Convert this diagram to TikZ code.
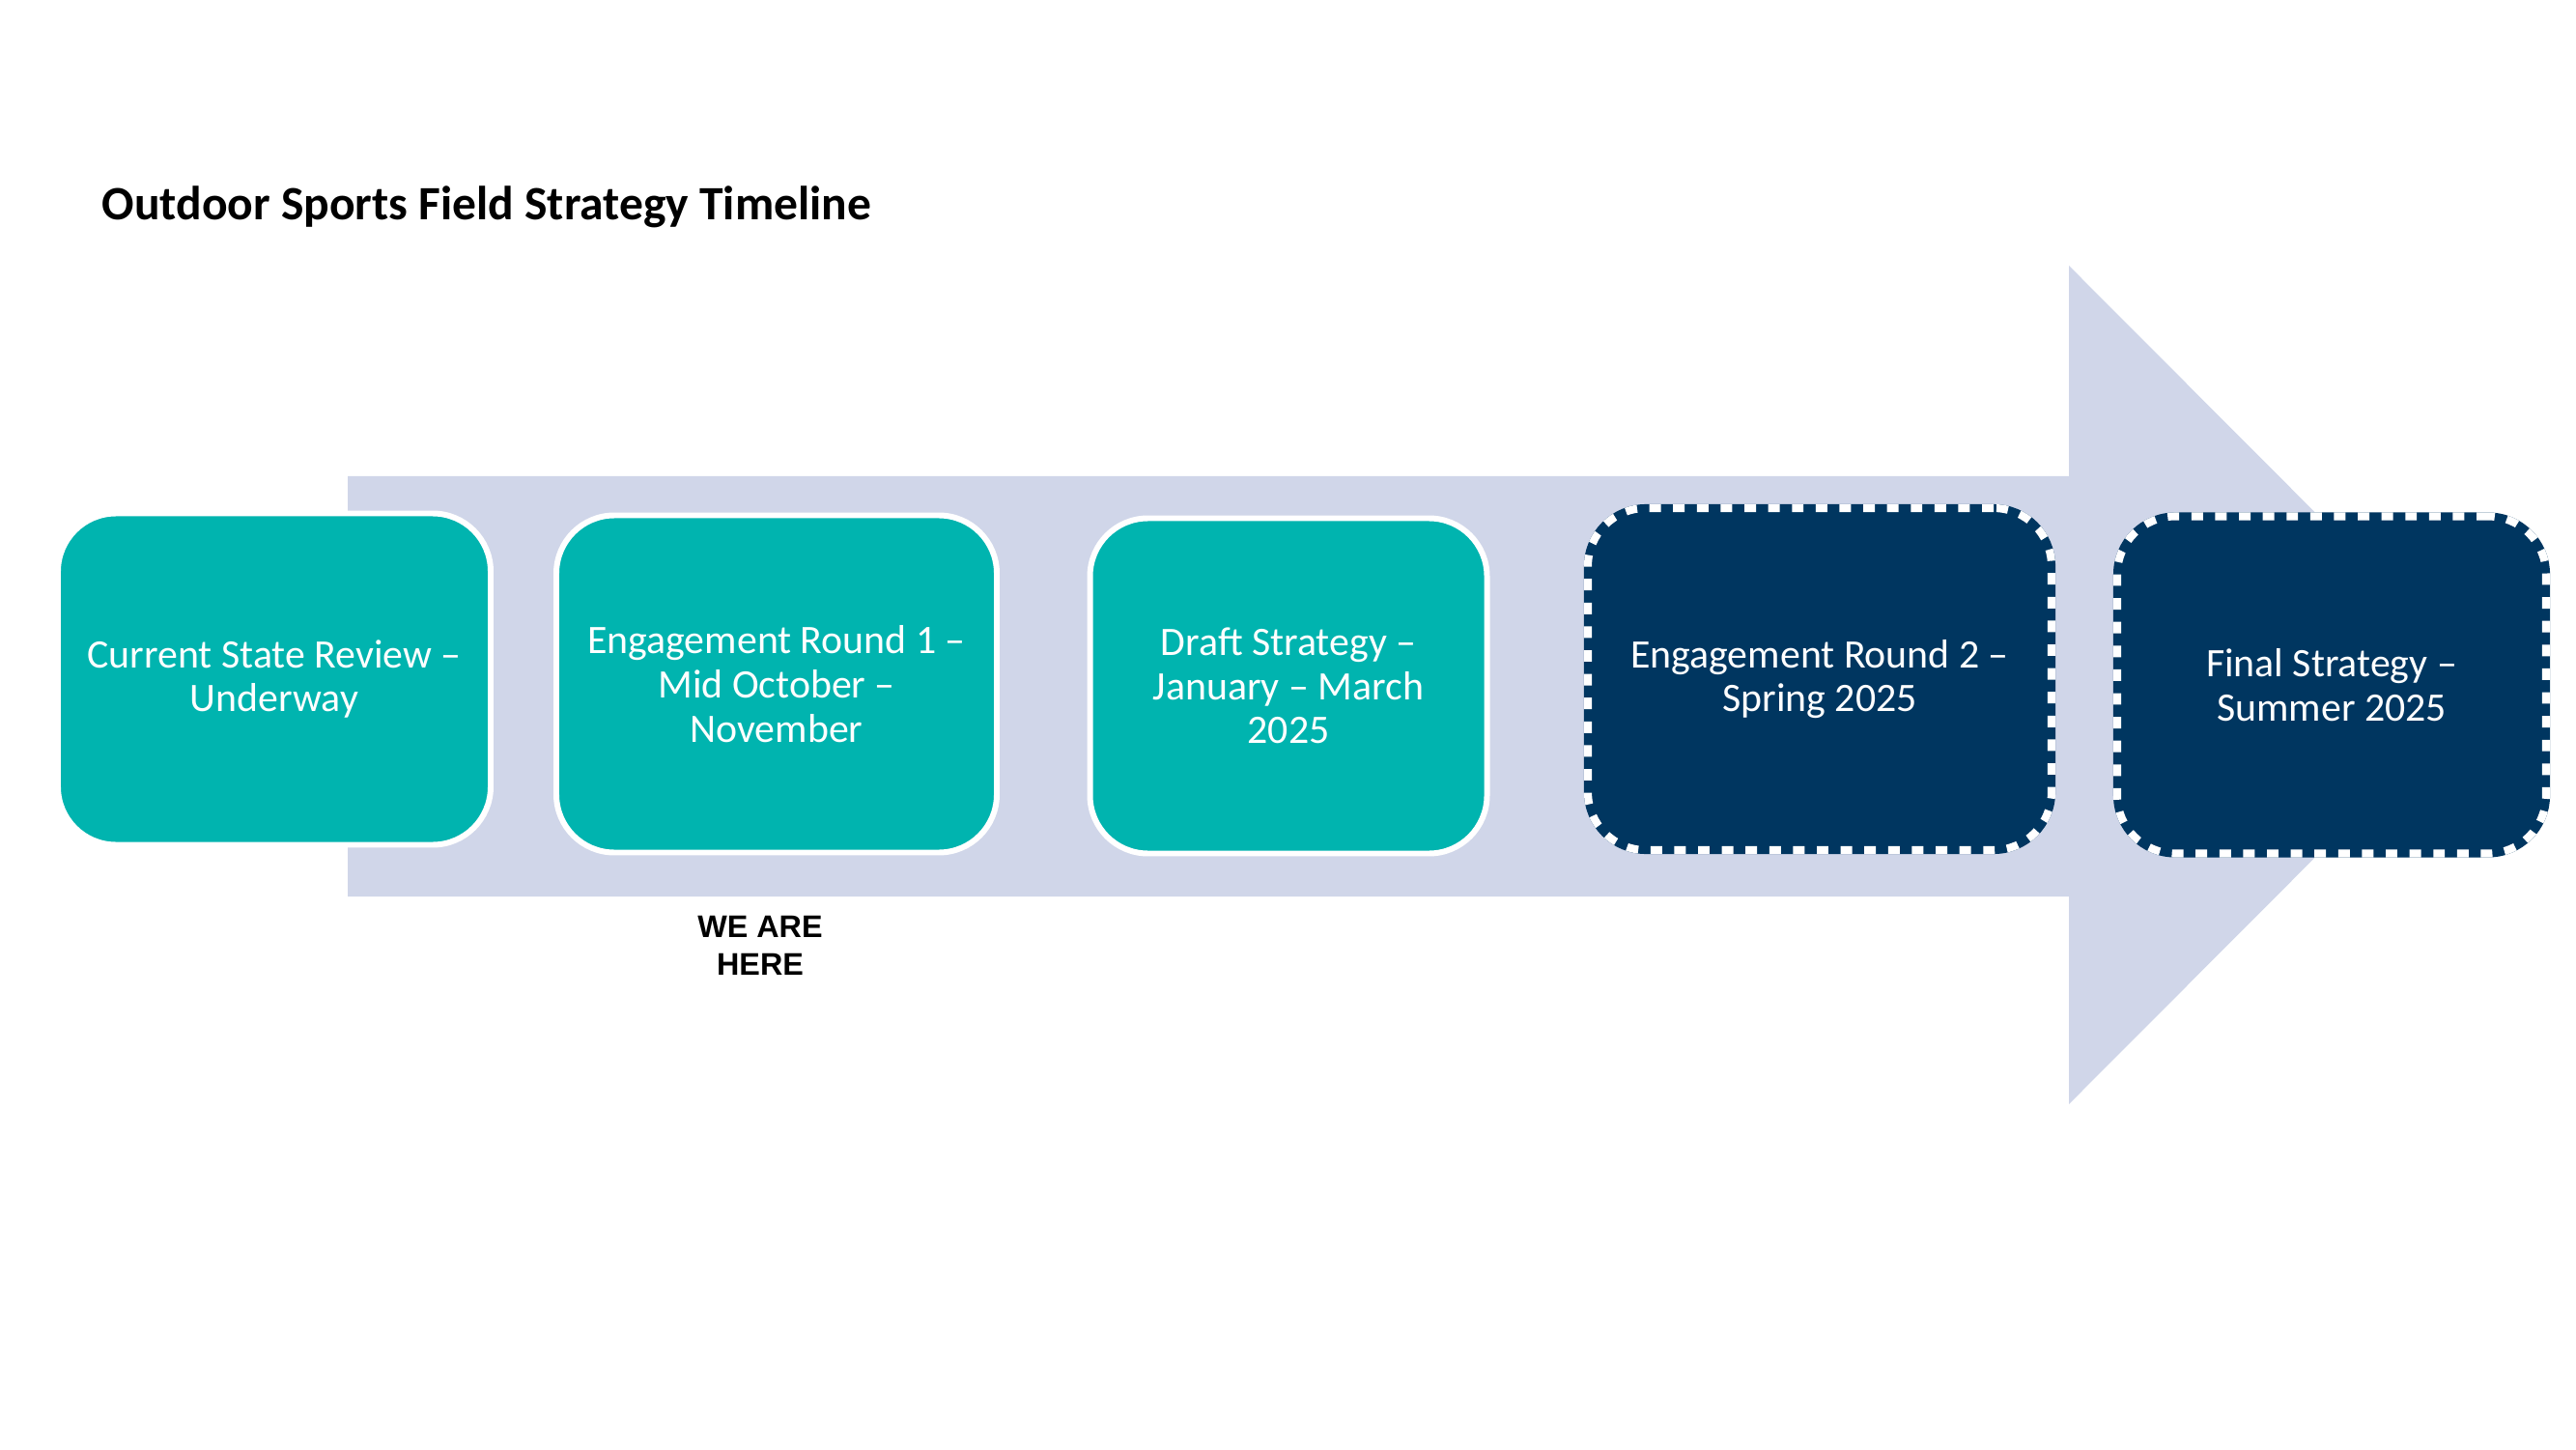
\documentclass[tikz,border=0pt]{standalone}
\usepackage{fontspec}
\setmainfont{Carlito}
\newfontfamily\arialfont{Liberation Sans}
\usepackage{tikz}
\usetikzlibrary{positioning}
\definecolor{tealbox}{RGB}{0,180,175}
\definecolor{navybox}{RGB}{0,54,96}
\definecolor{arrowfill}{RGB}{208,214,233}
\tikzset{
  stage/.style={rectangle,rounded corners=0.6cm,fill=tealbox,draw=white,
    line width=1.7pt,text=white,align=center,inner sep=0pt,
    font=\fontsize{11.9}{13}\selectfont},
  future/.style={stage,fill=navybox,draw=navybox,line width=2.3pt,
    postaction={draw=white,line width=2.3pt,dash pattern=on 3.4pt off 3.6pt}}
}
\begin{document}
\begin{tikzpicture}
\useasboundingbox (0,0) rectangle (26.67,15);

\fill[arrowfill] (3.60,10.07) -- (21.42,10.07) -- (21.42,12.25) -- (25.75,7.91)
  -- (21.42,3.57) -- (21.42,5.72) -- (3.60,5.72) -- cycle; % big arrow

\node[anchor=west,inner sep=0pt,font=\fontsize{14.1}{16}\selectfont\bfseries] (title) at (1.05,12.86) {Outdoor Sports Field Strategy Timeline};

% stages
\node[stage,minimum width=4.48cm,minimum height=3.43cm] (review) at (2.84,7.97) {Current State Review --\\Underway};
\node[stage,minimum width=4.56cm,minimum height=3.49cm] (round1) at (8.04,7.92) {Engagement Round 1 --\\Mid October --\\November};
\node[stage,minimum width=4.11cm,minimum height=3.47cm] (draft) at (13.34,7.90) {Draft Strategy --\\January -- March\\2025};
\node[future,minimum width=4.80cm,minimum height=3.54cm] (round2) at (18.84,7.97) {Engagement Round 2 --\\Spring 2025};
\node[future,minimum width=4.44cm,minimum height=3.49cm] (final) at (24.14,7.91) {Final Strategy --\\Summer 2025};

%label
\node[align=center,font=\arialfont\bfseries\fontsize{9.2}{11.2}\selectfont] (here) at (7.87,5.21) {WE ARE\\HERE};

\end{tikzpicture}
\end{document}
